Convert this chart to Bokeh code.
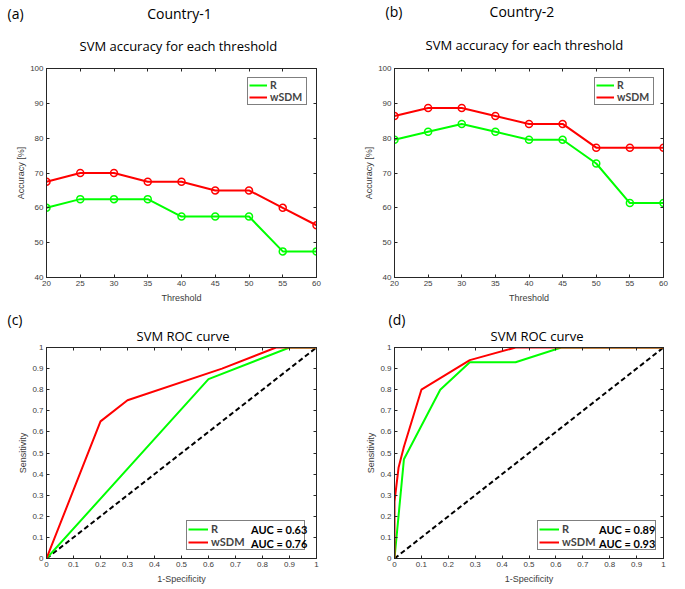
from bokeh.plotting import figure
from bokeh.models import (Range1d, LinearAxis, FixedTicker, Label, Legend, LegendItem,
                          CustomJSTickFormatter, Title)
from bokeh.layouts import column, row
from bokeh.embed import file_html
from bokeh.resources import INLINE

# ---------------- data ----------------
thresholds = [20, 25, 30, 35, 40, 45, 50, 55, 60]
acc1_R = [60, 62.5, 62.5, 62.5, 57.5, 57.5, 57.5, 47.5, 47.5]
acc1_wSDM = [67.5, 70, 70, 67.5, 67.5, 65, 65, 60, 55]
acc2_R = [79.55, 81.82, 84.09, 81.82, 79.55, 79.55, 72.73, 61.36, 61.36]
acc2_wSDM = [86.36, 88.64, 88.64, 86.36, 84.09, 84.09, 77.27, 77.27, 77.27]

roc1_R_fpr = [0, 0.6, 0.9, 1.0]
roc1_R_tpr = [0, 0.85, 1.0, 1.0]
roc1_wSDM_fpr = [0, 0.2, 0.3, 0.65, 0.85, 1.0]
roc1_wSDM_tpr = [0, 0.65, 0.75, 0.9, 1.0, 1.0]
roc2_R_fpr = [0, 0.035, 0.17, 0.28, 0.45, 0.62, 1.0]
roc2_R_tpr = [0, 0.47, 0.8, 0.93, 0.93, 1.0, 1.0]
roc2_wSDM_fpr = [0, 0, 0.015, 0.035, 0.1, 0.28, 0.45, 1.0]
roc2_wSDM_tpr = [0, 0.27, 0.43, 0.53, 0.8, 0.94, 1.0, 1.0]
chance = [0, 1]

auc1 = ["AUC = 0.63", "AUC = 0.76"]
auc2 = ["AUC = 0.89", "AUC = 0.93"]

acc_xticks = [20, 25, 30, 35, 40, 45, 50, 55, 60]
acc_yticks = [40, 50, 60, 70, 80, 90, 100]
roc_ticks = [0, 0.1, 0.2, 0.3, 0.4, 0.5, 0.6, 0.7, 0.8, 0.9, 1.0]

GREEN = "#00ff00"
RED = "#ff0000"
AX = "#262626"
TICKLAB = "#3c3c3c"
TFONT = "Open Sans"
LFONT = "Lato"
AFONT = "Liberation Sans"
NB = "\u00a0"


def base_fig(width, height, left, right, top, bottom, xr, yr, xticks, yticks,
             xlabel, ylabel, roc=False):
    p = figure(width=width, height=height, output_backend="svg", toolbar_location=None,
               x_range=Range1d(*xr), y_range=Range1d(*yr),
               min_border_left=left, min_border_right=right,
               min_border_top=top, min_border_bottom=bottom,
               background_fill_color="white", border_fill_color="white")
    p.xgrid.visible = False
    p.ygrid.visible = False
    p.outline_line_color = AX
    p.xaxis.ticker = FixedTicker(ticks=xticks)
    p.yaxis.ticker = FixedTicker(ticks=yticks)
    if roc:
        fmt = "return String(Math.round(tick*10)/10);"
        p.xaxis.formatter = CustomJSTickFormatter(code=fmt)
        p.yaxis.formatter = CustomJSTickFormatter(code=fmt)
    p.xaxis.axis_label = xlabel
    p.yaxis.axis_label = ylabel
    for ax in p.axis:
        ax.major_label_text_font = AFONT
        ax.major_label_text_font_size = "8px"
        ax.major_label_text_color = TICKLAB
        ax.axis_label_text_font = AFONT
        ax.axis_label_text_font_size = "9px"
        ax.axis_label_text_font_style = "normal"
        ax.axis_label_text_color = TICKLAB
    p.xaxis.major_label_standoff = 3
    p.xaxis.axis_label_standoff = 4
    p.yaxis.major_label_standoff = 3
    p.yaxis.axis_label_standoff = 1
    empty = "return '';"
    top_ax = LinearAxis(ticker=FixedTicker(ticks=xticks),
                        formatter=CustomJSTickFormatter(code=empty))
    right_ax = LinearAxis(ticker=FixedTicker(ticks=yticks),
                          formatter=CustomJSTickFormatter(code=empty))
    for ax in (top_ax, right_ax):
        ax.major_label_text_font_size = "0px"
        ax.major_label_standoff = 0
    p.add_layout(top_ax, "above")
    p.add_layout(right_ax, "right")
    for ax in p.axis:
        ax.axis_line_color = AX
        ax.major_tick_line_color = AX
        ax.major_tick_in = 3
        ax.major_tick_out = 0
        ax.minor_tick_line_color = None
    return p


def add_title(p, text, size, standoff, offset, valign):
    p.add_layout(Title(text=text, align="left", offset=offset, standoff=standoff,
                       text_font=TFONT, text_font_size=size, text_font_style="normal",
                       text_color="black", vertical_align=valign), "above")


def make_legend(p, r_ren, w_ren, location, size, gw, lw, bg_alpha, margin=9):
    leg = Legend(items=[LegendItem(label="R", renderers=[r_ren]),
                        LegendItem(label="wSDM", renderers=[w_ren])],
                 location=location, margin=margin, padding=1, spacing=0,
                 glyph_width=gw, glyph_height=12, label_height=12, label_standoff=3,
                 label_width=lw,
                 label_text_font=LFONT, label_text_font_size=size,
                 label_text_font_style="bold", border_line_color="black",
                 border_line_width=1, background_fill_alpha=bg_alpha)
    p.add_layout(leg)


def acc_panel(left, right, top, header, header_off, title_off, title_standoff, R, W):
    p = base_fig(342, 307, left, right, top, 30, (20, 60), (40, 100),
                 acc_xticks, acc_yticks, "Threshold", "Accuracy [%]")
    r = p.line(thresholds, R, line_color=GREEN, line_width=2)
    p.scatter(thresholds, R, marker="circle", size=7, fill_color=None,
              line_color=GREEN, line_width=1.5)
    w = p.line(thresholds, W, line_color=RED, line_width=2)
    p.scatter(thresholds, W, marker="circle", size=7, fill_color=None,
              line_color=RED, line_width=1.5)
    make_legend(p, r, w, "top_right", "10.5px", 18, 35, 1)
    add_title(p, "SVM accuracy for each threshold", "13px", title_standoff, title_off,
              "bottom")
    add_title(p, header, "14px", -3, header_off, "bottom")
    return p


def roc_panel(left, right, letter, letter_off, title_off, leg_x, Rx, Ry, Wx, Wy, aucs):
    p = base_fig(342, 281, left, right, 40, 30, (0, 1), (0, 1),
                 roc_ticks, roc_ticks, "1-Specificity", "Sensitivity", roc=True)
    p.line(chance, chance, line_color="black", line_width=2, line_dash="5 3")
    r = p.line(Rx, Ry, line_color=GREEN, line_width=2)
    w = p.line(Wx, Wy, line_color=RED, line_width=2)
    for txt, yy in zip(aucs, [29, 15]):
        p.add_layout(Label(x=204.5, y=yy, x_units="screen", y_units="screen", text=txt,
                           text_font=LFONT, text_font_size="11px", text_font_style="bold",
                           text_align="left", text_baseline="middle", text_color="black"))
    make_legend(p, r, w, (leg_x, 8), "11px", 20, 92, 0, margin=0)
    add_title(p, "SVM ROC curve", "13px", 1.2, title_off, "top")
    add_title(p, letter, "14px", -4, letter_off, "bottom")
    return p


pa = acc_panel(46, 26, 66, "(a)" + NB * 34 + "Country-1", -39, 33, 27.2,
               acc1_R, acc1_wSDM)
pb = acc_panel(52, 21, 68, "(b)" + NB * 24 + "Country-2", -9, 31, 29.2,
               acc2_R, acc2_wSDM)
pc = roc_panel(46, 26, "(c)", -39, 90, 140, roc1_R_fpr, roc1_R_tpr,
               roc1_wSDM_fpr, roc1_wSDM_tpr, auc1)
pd_ = roc_panel(52, 21, "(d)", -6, 96, 143, roc2_R_fpr, roc2_R_tpr,
                roc2_wSDM_fpr, roc2_wSDM_tpr, auc2)

layout = column(row(pa, pb), row(pc, pd_))
open("out.html", "w").write(file_html(layout, INLINE))
